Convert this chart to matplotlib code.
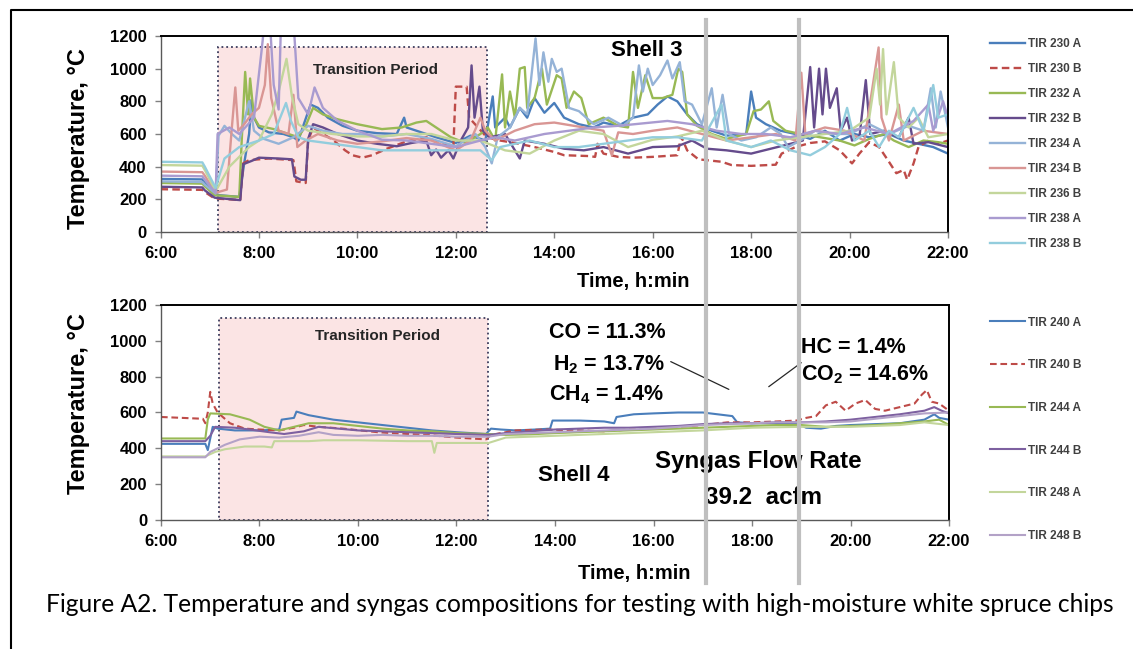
import numpy as np
import matplotlib
matplotlib.use("Agg")
import matplotlib.pyplot as plt
from matplotlib.patches import Rectangle
from matplotlib.lines import Line2D

plt.rcParams['font.family'] = ['Liberation Sans', 'DejaVu Sans']
plt.rcParams['font.weight'] = 'bold'
plt.rcParams['mathtext.default'] = 'regular'

# ---- data: (time in hours, temperature in deg C) ----
tir230a = [(6.0, 325), (6.85, 322), (6.9, 300), (7.1, 235), (7.2, 225), (7.6, 215), (7.7, 420), (7.8, 600),
           (7.85, 810), (7.9, 700), (8.0, 640), (8.2, 610), (8.5, 600), (8.7, 580), (8.8, 560), (8.9, 650),
           (9.05, 780), (9.2, 760), (9.4, 700), (9.7, 650), (10.0, 620), (10.4, 605), (10.8, 600), (10.95, 700),
           (11.0, 640), (11.3, 610), (11.6, 580), (12.0, 545), (12.3, 590), (12.6, 560), (12.75, 830), (12.8, 640),
           (13.0, 700), (13.1, 640), (13.3, 760), (13.45, 700), (13.6, 820), (13.8, 730), (14.0, 790), (14.2, 700),
           (14.5, 660), (14.8, 640), (15.0, 670), (15.3, 650), (15.6, 700), (15.9, 720), (16.1, 780), (16.3, 830),
           (16.5, 800), (16.7, 720), (16.9, 660), (17.2, 620), (17.5, 590), (17.9, 600), (18.0, 860), (18.1, 700),
           (18.3, 660), (18.6, 620), (18.9, 600), (19.2, 570), (19.5, 620), (19.8, 560), (20.1, 600), (20.4, 580),
           (20.8, 600), (21.1, 560), (21.4, 540), (21.7, 520), (22.0, 480)]
tir230b = [(6.0, 262), (6.85, 258), (6.9, 245), (7.1, 205), (7.4, 200), (7.62, 195), (7.68, 420), (7.8, 440),
           (8.2, 450), (8.7, 440), (8.76, 310), (8.95, 300), (9.0, 560), (9.1, 640), (9.3, 600), (9.5, 565),
           (9.75, 500), (9.9, 470), (10.1, 455), (10.3, 470), (10.6, 510), (11.0, 555), (11.4, 580), (11.7, 540),
           (11.95, 520), (12.0, 890), (12.22, 890), (12.27, 700), (12.45, 640), (12.63, 580), (12.9, 560),
           (13.2, 545), (13.6, 520), (14.0, 490), (14.2, 470), (14.7, 465), (14.83, 460), (14.88, 540), (15.0, 480),
           (15.3, 460), (15.6, 455), (16.0, 460), (16.5, 470), (16.58, 585), (16.7, 500), (16.93, 445), (17.4, 430),
           (17.6, 410), (18.0, 405), (18.5, 412), (18.62, 480), (18.9, 520), (19.2, 545), (19.5, 555), (19.8, 500),
           (20.05, 420), (20.2, 480), (20.4, 550), (20.6, 520), (20.8, 430), (20.95, 360), (21.1, 380), (21.17, 320),
           (21.3, 420), (21.4, 520), (21.6, 560), (21.8, 540), (22.0, 560)]
tir232a = [(6.0, 300), (6.85, 296), (6.9, 280), (7.1, 225), (7.6, 215), (7.65, 560), (7.72, 980), (7.78, 720),
           (7.82, 940), (7.9, 700), (8.0, 650), (8.3, 630), (8.6, 600), (8.8, 580), (8.95, 650), (9.1, 760),
           (9.3, 720), (9.6, 690), (10.0, 660), (10.5, 630), (10.9, 640), (11.2, 670), (11.4, 680), (11.6, 640),
           (11.9, 580), (12.2, 545), (12.5, 600), (12.65, 640), (12.8, 560), (12.94, 965), (13.0, 640), (13.1, 860),
           (13.2, 700), (13.3, 1000), (13.4, 1010), (13.45, 760), (13.6, 820), (13.75, 1000), (13.85, 780),
           (14.05, 960), (14.15, 940), (14.25, 760), (14.4, 860), (14.55, 820), (14.7, 660), (15.0, 700), (15.3, 650),
           (15.5, 640), (15.6, 980), (15.7, 760), (15.85, 960), (16.0, 820), (16.2, 820), (16.4, 840), (16.52, 1000),
           (16.6, 980), (16.7, 720), (16.9, 650), (17.2, 600), (17.5, 570), (17.9, 600), (18.05, 740), (18.2, 750),
           (18.36, 800), (18.45, 680), (18.7, 620), (19.0, 600), (19.4, 580), (19.8, 560), (20.1, 530), (20.4, 570),
           (20.7, 600), (20.9, 560), (21.2, 520), (21.5, 560), (21.8, 550), (22.0, 540)]
tir232b = [(6.0, 277), (6.85, 273), (6.9, 255), (7.1, 210), (7.62, 195), (7.68, 415), (7.85, 435), (8.0, 455),
           (8.4, 450), (8.67, 445), (8.72, 340), (8.85, 320), (8.95, 320), (9.0, 570), (9.1, 660), (9.3, 640),
           (9.6, 600), (10.0, 560), (10.4, 540), (10.8, 525), (11.1, 545), (11.4, 560), (11.5, 470), (11.6, 505),
           (11.7, 455), (11.85, 500), (11.95, 450), (12.1, 560), (12.25, 640), (12.32, 1020), (12.38, 700),
           (12.48, 890), (12.55, 620), (12.7, 580), (13.0, 600), (13.3, 450), (13.4, 560), (13.8, 540), (14.2, 510),
           (14.6, 500), (15.0, 520), (15.5, 480), (16.0, 520), (16.5, 525), (16.8, 560), (17.1, 510), (17.5, 500),
           (18.0, 480), (18.4, 510), (18.8, 540), (19.05, 560), (19.2, 1010), (19.28, 640), (19.38, 1000),
           (19.45, 720), (19.52, 1000), (19.6, 760), (19.74, 880), (19.82, 620), (19.95, 700), (20.05, 560),
           (20.2, 580), (20.33, 930), (20.42, 600), (20.7, 620), (21.0, 580), (21.2, 700), (21.3, 540), (21.6, 550),
           (22.0, 520)]
tir234a = [(6.0, 310), (6.85, 306), (6.9, 290), (7.12, 235), (7.18, 590), (7.3, 650), (7.45, 600), (7.6, 560),
           (7.8, 800), (7.9, 620), (8.1, 570), (8.4, 540), (8.7, 580), (9.0, 650), (9.3, 620), (9.7, 600),
           (10.0, 600), (10.5, 585), (11.0, 600), (11.5, 570), (12.0, 525), (12.4, 600), (12.6, 520), (12.73, 420),
           (12.85, 580), (13.1, 640), (13.3, 760), (13.45, 720), (13.62, 1185), (13.7, 900), (13.78, 1100),
           (13.88, 920), (13.95, 1060), (14.05, 980), (14.15, 1000), (14.3, 760), (14.5, 740), (14.8, 660),
           (15.1, 700), (15.4, 650), (15.6, 700), (15.72, 1020), (15.8, 860), (15.9, 1000), (16.0, 900),
           (16.15, 960), (16.3, 1050), (16.4, 940), (16.55, 1040), (16.65, 800), (16.8, 780), (17.0, 660),
           (17.2, 880), (17.3, 640), (17.42, 840), (17.55, 600), (17.8, 560), (18.1, 580), (18.4, 640), (18.6, 600),
           (18.75, 520), (19.0, 560), (19.3, 620), (19.6, 600), (20.0, 600), (20.4, 660), (20.8, 600), (21.2, 650),
           (21.5, 620), (21.65, 880), (21.75, 640), (21.85, 860), (22.0, 640)]
tir234b = [(6.0, 370), (6.85, 366), (6.9, 345), (7.12, 240), (7.35, 260), (7.45, 640), (7.52, 885), (7.58, 620),
           (7.7, 660), (7.85, 720), (8.0, 760), (8.12, 900), (8.18, 1150), (8.25, 820), (8.4, 620), (8.6, 600),
           (8.7, 840), (8.78, 520), (8.95, 560), (9.2, 600), (9.6, 560), (10.0, 540), (10.5, 555), (11.0, 575),
           (11.5, 560), (12.0, 500), (12.3, 560), (12.5, 700), (12.6, 620), (12.8, 560), (13.2, 620), (13.6, 660),
           (14.0, 670), (14.5, 645), (15.0, 620), (15.17, 470), (15.3, 610), (15.6, 600), (16.0, 620), (16.5, 640),
           (17.0, 600), (17.5, 560), (18.0, 580), (18.5, 600), (18.9, 560), (19.02, 975), (19.1, 600), (19.5, 640),
           (19.9, 620), (20.3, 560), (20.59, 1130), (20.65, 700), (20.8, 560), (21.0, 780), (21.1, 560),
           (21.5, 620), (22.0, 600)]
tir236b = [(6.0, 410), (6.85, 406), (6.9, 380), (7.12, 250), (7.4, 400), (7.8, 520), (8.0, 560), (8.26, 720),
           (8.4, 860), (8.56, 1060), (8.67, 830), (8.8, 660), (9.0, 620), (9.5, 600), (10.0, 585), (10.5, 585),
           (11.0, 600), (11.5, 600), (12.0, 560), (12.5, 560), (13.0, 500), (13.5, 480), (14.0, 560), (14.5, 620),
           (15.0, 600), (15.5, 520), (16.0, 565), (16.5, 585), (17.0, 620), (17.5, 560), (18.0, 520), (18.5, 560),
           (19.0, 580), (19.5, 600), (20.0, 620), (20.4, 700), (20.55, 1000), (20.62, 780), (20.68, 1120),
           (20.75, 720), (20.9, 1040), (21.0, 700), (21.2, 640), (21.4, 700), (21.6, 580), (22.0, 600)]
tir238a = [(6.0, 345), (6.85, 341), (6.9, 320), (7.12, 240), (7.16, 600), (7.4, 640), (7.6, 600), (7.9, 700),
           (8.05, 1100), (8.12, 1300), (8.22, 1300), (8.3, 900), (8.4, 750), (8.45, 1300), (8.7, 1300), (8.8, 820),
           (9.0, 720), (9.13, 885), (9.3, 760), (9.6, 680), (10.0, 620), (10.5, 565), (11.0, 560), (11.5, 540),
           (12.0, 520), (12.5, 560), (12.8, 580), (13.2, 560), (13.8, 600), (14.3, 620), (14.8, 640), (15.3, 650),
           (15.8, 665), (16.3, 680), (16.8, 660), (17.3, 620), (17.8, 600), (18.3, 600), (18.8, 580), (19.3, 620),
           (19.8, 600), (20.3, 640), (20.8, 600), (21.3, 680), (21.6, 780), (21.7, 620), (21.9, 800), (22.0, 700)]
tir238b = [(6.0, 430), (6.85, 426), (6.9, 400), (7.12, 270), (7.3, 450), (7.6, 520), (8.0, 560), (8.3, 600),
           (8.55, 790), (8.65, 680), (8.8, 580), (9.0, 560), (9.5, 540), (10.0, 520), (10.5, 500), (11.0, 500),
           (11.5, 500), (12.0, 500), (12.5, 500), (12.73, 440), (12.9, 520), (13.5, 560), (14.0, 520), (14.5, 520),
           (15.0, 540), (15.5, 560), (16.0, 580), (16.5, 580), (17.0, 560), (17.4, 780), (17.5, 560), (18.0, 520),
           (18.4, 560), (18.8, 500), (19.2, 470), (19.5, 520), (19.8, 600), (19.95, 760), (20.1, 560), (20.4, 620),
           (20.6, 520), (20.8, 620), (21.0, 580), (21.3, 760), (21.5, 620), (21.7, 900), (21.8, 700), (22.0, 720)]

tir240a = [(6.0, 425), (6.9, 425), (6.95, 390), (7.05, 520), (7.15, 510), (7.5, 500), (8.0, 500), (8.4, 505),
           (8.45, 560), (8.7, 570), (8.75, 605), (9.0, 585), (9.5, 560), (10.0, 545), (10.5, 530), (11.0, 515),
           (11.5, 500), (12.0, 490), (12.6, 480), (12.7, 510), (12.9, 505), (13.2, 500), (13.6, 505), (13.9, 510),
           (13.95, 555), (14.5, 555), (15.0, 550), (15.2, 540), (15.25, 575), (15.6, 590), (16.0, 595), (16.5, 600),
           (17.0, 600), (17.3, 590), (17.6, 580), (17.7, 545), (18.0, 540), (18.5, 540), (18.9, 540), (19.1, 515),
           (19.4, 510), (19.7, 525), (20.0, 530), (20.5, 535), (21.0, 540), (21.5, 560), (21.7, 590), (21.8, 570),
           (22.0, 560)]
tir240b = [(6.0, 575), (6.85, 565), (6.9, 540), (6.95, 600), (7.0, 715), (7.05, 650), (7.15, 600), (7.4, 540),
           (7.7, 510), (8.0, 505), (8.4, 500), (8.7, 515), (8.9, 530), (9.2, 520), (9.7, 510), (10.4, 490),
           (11.0, 480), (11.4, 475), (12.0, 460), (12.6, 450), (12.7, 475), (13.2, 500), (13.8, 505), (14.5, 500),
           (15.0, 495), (15.5, 505), (16.0, 510), (16.5, 520), (17.0, 530), (17.5, 545), (18.0, 545), (18.5, 550),
           (18.9, 555), (19.1, 570), (19.3, 580), (19.5, 640), (19.7, 660), (19.9, 610), (20.1, 650), (20.3, 670),
           (20.5, 620), (20.7, 610), (21.0, 630), (21.3, 650), (21.45, 700), (21.55, 725), (21.65, 660),
           (21.8, 650), (22.0, 610)]
tir244a = [(6.0, 455), (6.9, 455), (6.95, 560), (7.0, 595), (7.4, 590), (7.8, 560), (8.1, 520), (8.4, 500),
           (8.7, 520), (9.0, 540), (9.5, 540), (10.0, 525), (10.5, 510), (11.0, 500), (11.5, 495), (12.0, 485),
           (12.65, 480), (13.0, 475), (13.5, 478), (14.0, 485), (14.5, 490), (15.0, 495), (15.5, 500), (16.0, 505),
           (16.5, 510), (17.0, 515), (17.5, 520), (18.0, 525), (18.5, 530), (19.0, 530), (19.5, 520), (20.0, 525),
           (20.5, 530), (21.0, 540), (21.5, 550), (21.8, 560), (22.0, 530)]
tir244b = [(6.0, 440), (6.9, 440), (7.0, 470), (7.1, 520), (7.5, 515), (7.8, 505), (8.2, 490), (8.5, 480),
           (8.9, 495), (9.2, 520), (9.6, 510), (10.0, 500), (10.5, 495), (11.0, 490), (11.5, 485), (12.0, 480),
           (12.65, 475), (13.0, 485), (13.5, 495), (14.0, 505), (14.5, 510), (15.0, 515), (15.5, 515), (16.0, 520),
           (16.5, 525), (17.0, 535), (17.5, 540), (18.0, 540), (18.5, 545), (19.0, 545), (19.5, 550), (20.0, 560),
           (20.5, 575), (21.0, 590), (21.5, 610), (21.7, 630), (21.85, 610), (22.0, 595)]
tir248a = [(6.0, 355), (6.9, 355), (7.1, 380), (7.3, 395), (7.7, 410), (8.1, 410), (8.25, 405), (8.3, 440),
           (9.0, 440), (9.3, 445), (10.0, 445), (11.0, 440), (11.5, 440), (11.55, 375), (11.6, 430), (12.65, 430),
           (13.0, 460), (14.0, 470), (15.0, 480), (16.0, 490), (17.0, 500), (18.0, 515), (19.0, 520), (20.0, 520),
           (21.0, 530), (21.5, 545), (22.0, 530)]
tir248b = [(6.0, 350), (6.9, 350), (7.0, 380), (7.3, 420), (7.6, 450), (8.0, 465), (8.4, 460), (8.8, 470),
           (9.2, 490), (9.5, 475), (10.0, 470), (10.5, 475), (11.0, 470), (11.5, 470), (12.0, 465), (12.65, 465),
           (13.0, 480), (14.0, 490), (15.0, 500), (16.0, 510), (17.0, 530), (18.0, 540), (18.5, 545), (19.0, 545),
           (19.5, 545), (20.0, 550), (20.5, 565), (21.0, 580), (21.5, 595), (22.0, 600)]

shell3_series = [('TIR 230 A', tir230a, '#4A7EBB'), ('TIR 230 B', tir230b, '#BE4B48'),
                 ('TIR 232 A', tir232a, '#98B954'), ('TIR 232 B', tir232b, '#654B8C'),
                 ('TIR 234 A', tir234a, '#95B3D7'), ('TIR 234 B', tir234b, '#D99694'),
                 ('TIR 236 B', tir236b, '#C3D69B'), ('TIR 238 A', tir238a, '#A99BD0'),
                 ('TIR 238 B', tir238b, '#93CDDD')]
shell4_series = [('TIR 240 A', tir240a, '#4A7EBB'), ('TIR 240 B', tir240b, '#BE4B48'),
                 ('TIR 244 A', tir244a, '#98B954'), ('TIR 244 B', tir244b, '#7D60A0'),
                 ('TIR 248 A', tir248a, '#C3D69B'), ('TIR 248 B', tir248b, '#B3A2C7')]

hour_ticks = [6, 8, 10, 12, 14, 16, 18, 20, 22]
hour_labels = ['6:00', '8:00', '10:00', '12:00', '14:00', '16:00', '18:00', '20:00', '22:00']
transition = (7.17, 12.64, 1130)
gray_times = [17.07, 18.95]
caption = ('Figure A2. Temperature and syngas compositions for testing with '
           'high-moisture white spruce chips')

fig = plt.figure(figsize=(11.33, 6.49), dpi=100)
ax1 = fig.add_axes([0.14166, 0.64253, 0.69506, 0.30200])
ax2 = fig.add_axes([0.14210, 0.19877, 0.69550, 0.33128])


def style_axes(ax, series, lw, legend_top, spacing):
    ax.add_patch(Rectangle((transition[0], 0), transition[1] - transition[0], transition[2],
                           facecolor='#FBE4E4', edgecolor='#3B3B5C', linestyle=':', lw=1.3, zorder=0.5))
    handles = []
    for name, pts, color in series:
        arr = np.array(pts, dtype=float)
        ls = (0, (3.2, 1.8)) if name.endswith('B') and color == '#BE4B48' else '-'
        h, = ax.plot(arr[:, 0], arr[:, 1], color=color, lw=lw, ls=ls, label=name, zorder=2)
        handles.append(h)
    ax.set_xlim(6, 22)
    ax.set_ylim(0, 1200)
    ax.set_yticks(range(0, 1201, 200))
    ax.set_xticks(hour_ticks)
    ax.set_xticklabels(hour_labels)
    ax.tick_params(direction='out', length=4, width=1, color='#808080', labelsize=12, pad=6)
    for side in ['top', 'right']:
        ax.spines[side].set_color('black')
        ax.spines[side].set_linewidth(1.4)
    for side in ['left', 'bottom']:
        ax.spines[side].set_color('#595959')
        ax.spines[side].set_linewidth(1.0)
    ax.set_ylabel('Temperature, °C', fontsize=17, fontweight='bold')
    ax.yaxis.label.set_va('center')
    ax.set_xlabel('Time, h:min', fontsize=14.5, fontweight='bold')
    ax.xaxis.label.set_va('center')
    leg = ax.legend(handles=handles, loc='upper left', bbox_to_anchor=(0.8738, legend_top),
                    bbox_transform=fig.transFigure, frameon=False, fontsize=8.5, handlelength=3.0,
                    handletextpad=0.25, labelspacing=spacing, borderpad=0, borderaxespad=0)
    for txt in leg.get_texts():
        txt.set_color('#404040')


style_axes(ax1, shell3_series, 1.7, 0.941, 1.1)
style_axes(ax2, shell4_series, 1.5, 0.5123, 2.6)
ax1.yaxis.set_label_coords(-0.104, 0.477)
ax1.xaxis.set_label_coords(0.600, -0.254)
ax2.yaxis.set_label_coords(-0.105, 0.540)
ax2.xaxis.set_label_coords(0.601, -0.248)

ax1.text(15.88, 1114, 'Shell 3', fontsize=16, ha='center', va='center')
ax1.text(10.36, 994, 'Transition Period', fontsize=11, ha='center', va='center', color='#262626')
ax2.text(10.39, 1029, 'Transition Period', fontsize=11, ha='center', va='center', color='#262626')

ax2.text(15.06, 1047, 'CO = 11.3%', fontsize=15.5, ha='center', va='center')
ax2.text(15.10, 865, 'H$_2$ = 13.7%', fontsize=15.5, ha='center', va='center')
ax2.text(15.04, 698, 'CH$_4$ = 1.4%', fontsize=15.5, ha='center', va='center')
ax2.text(19.00, 962, 'HC = 1.4%', fontsize=15.5, ha='left', va='center')
ax2.text(19.00, 809, 'CO$_2$ = 14.6%', fontsize=15.5, ha='left', va='center')
ax2.annotate('', xy=(17.53, 729), xytext=(16.35, 884),
             arrowprops=dict(arrowstyle='-', color='#262626', lw=0.9, shrinkA=0, shrinkB=0))
ax2.annotate('', xy=(18.34, 744), xytext=(19.00, 878),
             arrowprops=dict(arrowstyle='-', color='#262626', lw=0.9, shrinkA=0, shrinkB=0))
ax2.text(14.39, 251, 'Shell 4', fontsize=16, ha='center', va='center')
ax2.text(18.12, 325, 'Syngas Flow Rate', fontsize=17.4, ha='center', va='center')
ax2.text(18.24, 127, '39.2  acfm', fontsize=17.4, ha='center', va='center')

# gray marker lines spanning both panels
for t in gray_times:
    ax2.axvline(t, ymin=-0.293, ymax=2.326, color='#BFBFBF', lw=3.0, clip_on=False, zorder=5)

# outer frame (only left and top edges are visible)
fig.add_artist(Line2D([10.7 / 1133, 10.7 / 1133, 1.0], [0.0, 1 - 10 / 649, 1 - 10 / 649],
                      color='black', lw=1.5))

cap = fig.text(580 / 1133, 1 - 605 / 649, caption, ha='center', va='center',
               fontsize=15, fontweight='normal', family=['Lato', 'DejaVu Sans'])
fig.canvas.draw()
w = cap.get_window_extent().width
cap.set_fontsize(15 * 1070 / w)

fig.savefig('out.png', dpi=100, facecolor='white')
